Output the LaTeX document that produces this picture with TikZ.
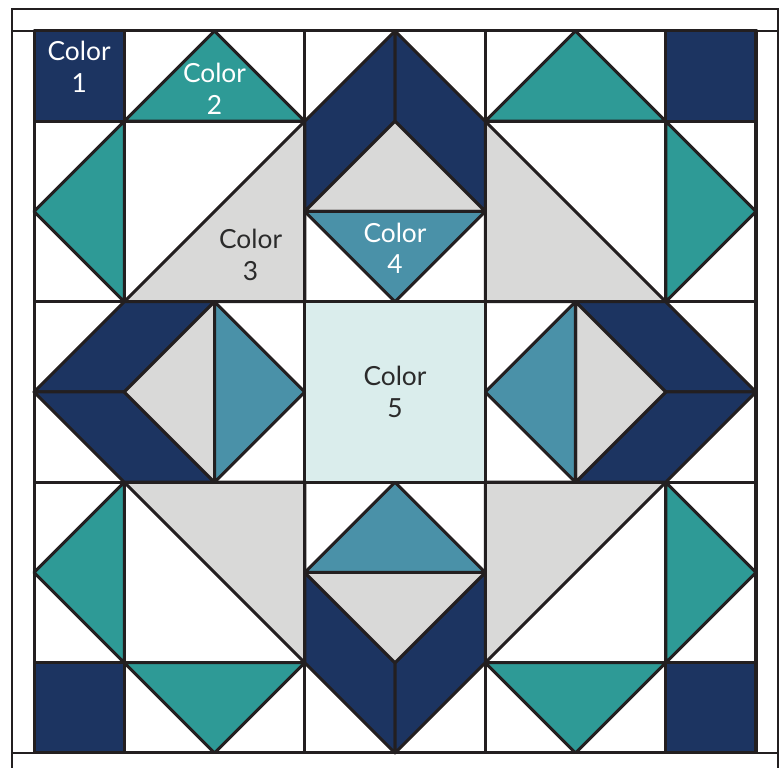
\documentclass[tikz,border=0pt]{standalone}
\usepackage{fontspec}
\setmainfont{Lato}
\definecolor{colorone}{HTML}{1C3461}
\definecolor{colortwo}{HTML}{2E9A96}
\definecolor{colorthree}{HTML}{D9D9D8}
\definecolor{colorfour}{HTML}{4A91A8}
\definecolor{colorfive}{HTML}{DAEDEC}
\definecolor{seam}{HTML}{231F20}
\definecolor{ink}{HTML}{2B2B2B}
\tikzset{
    patch/.style={draw=seam, line width=0.95pt, line join=round},
    frame/.style={draw=seam, line width=0.7pt},
    swatch/.style={align=center, font=\fontsize{8.3}{10}\selectfont, inner sep=0pt},
}
\begin{document}
\begin{tikzpicture}
    \useasboundingbox (-0.377,-0.166) rectangle (8.266,8.343);
    \clip (-0.377,-0.166) rectangle (8.266,8.343);

    % Border
    \draw[frame] (-0.244,-0.6) rectangle (8.244,8.244);
    \draw[frame] (-0.244,8) -- (8.244,8);
    \draw[frame] (-0.244,0) -- (8.244,0);

    % Corners
    \filldraw[patch, fill=colorone] (0,7) rectangle (1,8);
    \filldraw[patch, fill=colorone] (7,7) rectangle (8,8);
    \filldraw[patch, fill=colorone] (0,0) rectangle (1,1);
    \filldraw[patch, fill=colorone] (7,0) rectangle (8,1);

    % Flying geese
    \filldraw[patch, fill=colortwo] (1,7) -- (3,7) -- (2,8) -- cycle;
    \filldraw[patch, fill=colortwo] (5,7) -- (7,7) -- (6,8) -- cycle;
    \filldraw[patch, fill=colortwo] (1,1) -- (3,1) -- (2,0) -- cycle;
    \filldraw[patch, fill=colortwo] (5,1) -- (7,1) -- (6,0) -- cycle;
    \filldraw[patch, fill=colortwo] (1,5) -- (1,7) -- (0,6) -- cycle;
    \filldraw[patch, fill=colortwo] (1,1) -- (1,3) -- (0,2) -- cycle;
    \filldraw[patch, fill=colortwo] (7,5) -- (7,7) -- (8,6) -- cycle;
    \filldraw[patch, fill=colortwo] (7,1) -- (7,3) -- (8,2) -- cycle;

    % Large triangles
    \filldraw[patch, fill=colorthree] (3,7) -- (1,5) -- (3,5) -- cycle;
    \filldraw[patch, fill=colorthree] (5,7) -- (7,5) -- (5,5) -- cycle;
    \filldraw[patch, fill=colorthree] (1,3) -- (3,3) -- (3,1) -- cycle;
    \filldraw[patch, fill=colorthree] (5,3) -- (7,3) -- (5,1) -- cycle;

    % Top arrow
    \filldraw[patch, fill=colorone] (4,8) -- (3,7) -- (3,6) -- (4,7) -- cycle;
    \filldraw[patch, fill=colorone] (4,8) -- (5,7) -- (5,6) -- (4,7) -- cycle;
    \filldraw[patch, fill=colorthree] (3,6) -- (4,7) -- (5,6) -- cycle;
    \filldraw[patch, fill=colorfour] (3,6) -- (5,6) -- (4,5) -- cycle;

    % Bottom arrow
    \filldraw[patch, fill=colorone] (4,0) -- (3,1) -- (3,2) -- (4,1) -- cycle;
    \filldraw[patch, fill=colorone] (4,0) -- (5,1) -- (5,2) -- (4,1) -- cycle;
    \filldraw[patch, fill=colorthree] (3,2) -- (4,1) -- (5,2) -- cycle;
    \filldraw[patch, fill=colorfour] (3,2) -- (5,2) -- (4,3) -- cycle;

    % Left arrow
    \filldraw[patch, fill=colorone] (0,4) -- (1,5) -- (2,5) -- (1,4) -- cycle;
    \filldraw[patch, fill=colorone] (0,4) -- (1,4) -- (2,3) -- (1,3) -- cycle;
    \filldraw[patch, fill=colorthree] (1,4) -- (2,5) -- (2,3) -- cycle;
    \filldraw[patch, fill=colorfour] (2,5) -- (3,4) -- (2,3) -- cycle;

    % Right arrow
    \filldraw[patch, fill=colorone] (8,4) -- (7,5) -- (6,5) -- (7,4) -- cycle;
    \filldraw[patch, fill=colorone] (8,4) -- (7,4) -- (6,3) -- (7,3) -- cycle;
    \filldraw[patch, fill=colorthree] (7,4) -- (6,5) -- (6,3) -- cycle;
    \filldraw[patch, fill=colorfour] (6,5) -- (5,4) -- (6,3) -- cycle;

    % Centre
    \filldraw[patch, fill=colorfive] (3,3) rectangle (5,5);

    % Seams
    \draw[patch] (0,0) rectangle (8,8);
    \foreach \v in {3,5} {
        \draw[patch] (\v,0) -- (\v,8);
        \draw[patch] (0,\v) -- (8,\v);
    }
    \foreach \v in {1,7} {
        \draw[patch] (\v,0) -- (\v,3);
        \draw[patch] (\v,5) -- (\v,8);
        \draw[patch] (0,\v) -- (3,\v);
        \draw[patch] (5,\v) -- (8,\v);
    }

    % Labels
    \node[swatch, text=white] (c1) at (0.5,7.6) {Color\\1};
    \node[swatch, text=white] (c2) at (2.0,7.36) {Color\\2};
    \node[swatch, text=ink] (c3) at (2.4,5.52) {Color\\3};
    \node[swatch, text=white] (c4) at (4.0,5.59) {Color\\4};
    \node[swatch, text=ink] (c5) at (4.0,4.0) {Color\\5};
\end{tikzpicture}
\end{document}
